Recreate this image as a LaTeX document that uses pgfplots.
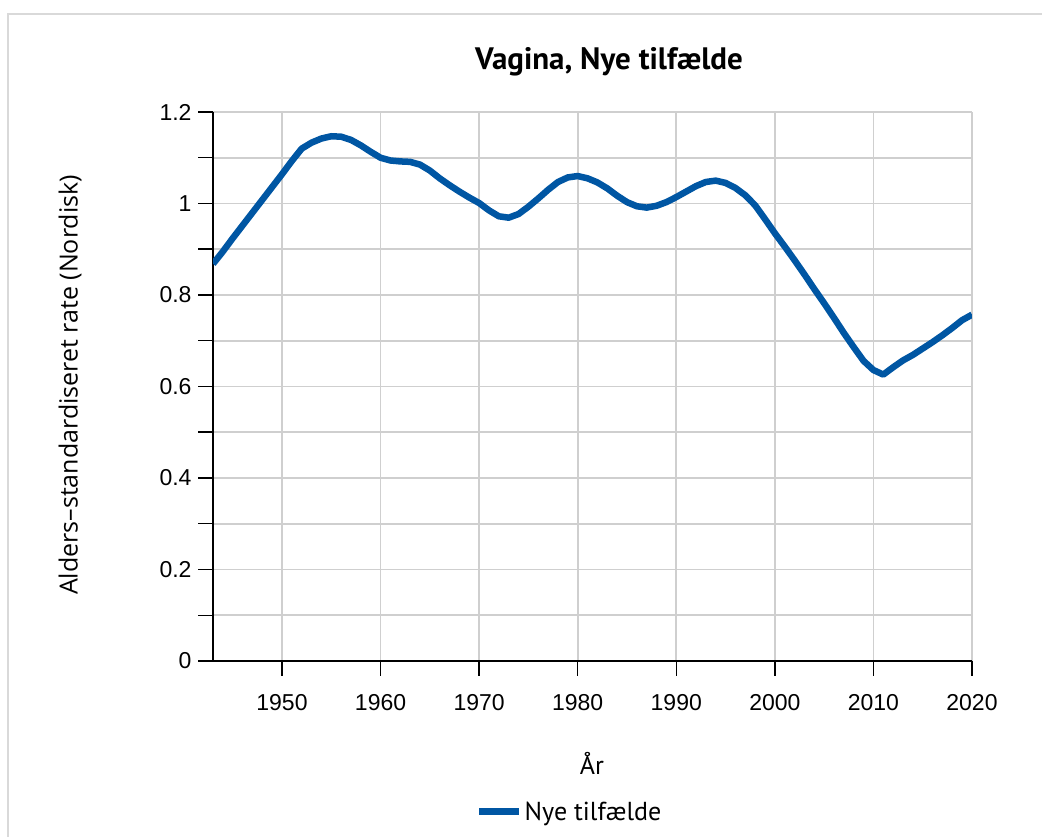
\documentclass[border=0pt]{standalone}
\usepackage{pgfplots}
\pgfplotsset{compat=1.18}
\usepackage{fontspec}
\setmainfont{Liberation Sans}
\newfontfamily\lab{PT Sans}
\newfontfamily\ylab{Open Sans}
\definecolor{curve}{HTML}{0056A3}
\definecolor{gridc}{HTML}{CFCFCF}
\definecolor{framec}{HTML}{D9D9D9}
\begin{document}
\begin{tikzpicture}[x=1pt,y=1pt]
\useasboundingbox (0,0) rectangle (1042,836);
\begin{scope}
\clip (0,0) rectangle (1042,836);
\draw[framec, line width=2pt] (8,-20) -- (8,822) -- (1060,822);
\end{scope}
\begin{axis}[
  at={(213pt,175pt)}, anchor=south west,
  scale only axis, width=759pt, height=549pt,
  xmin=1943, xmax=2020, ymin=0, ymax=1.2,
  axis x line*=bottom, axis y line*=left,
  xtick={1950,1960,1970,1980,1990,2000,2010,2020},
  ytick={0,0.2,0.4,0.6,0.8,1,1.2},
  minor ytick={0.1,0.3,0.5,0.7,0.9,1.1},
  grid=both,
  major grid style={draw=gridc, line width=1.8pt},
  minor grid style={draw=gridc, line width=1.8pt},
  tick align=outside,
  major tick length=15pt, minor tick length=15pt,
  tick style={black, line width=1.5pt},
  axis line style={black, line width=1.5pt},
  /pgf/number format/assume math mode=true,
  x tick label style={font=\fontsize{23}{23}\selectfont, /pgf/number format/1000 sep={}, yshift=-15pt},
  y tick label style={font=\fontsize{23}{23}\selectfont, /pgf/number format/fixed, /pgf/number format/precision=1, xshift=-3pt},
  legend style={at={(0.4697,-0.275)}, anchor=center, draw=none, fill=none,
    font=\lab\fontsize{26}{26}\selectfont, inner sep=0pt},
  legend image code/.code={\draw[#1, line width=7pt] (0pt,0pt) -- (40pt,0pt);},
]
\addplot[curve, line width=6.5pt, line join=round] coordinates {
(1943,0.868) (1944,0.895) (1945,0.924) (1946,0.952) (1947,0.980)
(1948,1.008) (1949,1.036) (1950,1.064) (1951,1.093) (1952,1.120)
(1953,1.133) (1954,1.142) (1955,1.147) (1956,1.146) (1957,1.139)
(1958,1.127) (1959,1.113) (1960,1.100) (1961,1.094) (1962,1.092)
(1963,1.091) (1964,1.085) (1965,1.072) (1966,1.055) (1967,1.040)
(1968,1.026) (1969,1.013) (1970,1.001) (1971,0.985) (1972,0.972)
(1973,0.969) (1974,0.977) (1975,0.993) (1976,1.011) (1977,1.030)
(1978,1.047) (1979,1.057) (1980,1.060) (1981,1.055) (1982,1.046)
(1983,1.033) (1984,1.017) (1985,1.003) (1986,0.994) (1987,0.991)
(1988,0.995) (1989,1.003) (1990,1.014) (1991,1.026) (1992,1.038)
(1993,1.047) (1994,1.050) (1995,1.045) (1996,1.034) (1997,1.018)
(1998,0.996) (1999,0.966) (2000,0.935) (2001,0.906) (2002,0.876)
(2003,0.845) (2004,0.813) (2005,0.782) (2006,0.750) (2007,0.717)
(2008,0.686) (2009,0.656) (2010,0.636) (2011,0.626) (2012,0.642)
(2013,0.657) (2014,0.669) (2015,0.683) (2016,0.697) (2017,0.712)
(2018,0.728) (2019,0.745) (2020,0.757)
};
\addlegendentry{Nye tilfælde}
\end{axis}
\node[font=\lab\bfseries\fontsize{31}{31}\selectfont] at (609,774) {Vagina, Nye tilfælde};
\node[font=\ylab\fontsize{25}{25}\selectfont, rotate=90] at (70,451) {Alders–standardiseret rate (Nordisk)};
\node[font=\lab\fontsize{26}{26}\selectfont] at (592,73) {År};
\end{tikzpicture}
\end{document}
